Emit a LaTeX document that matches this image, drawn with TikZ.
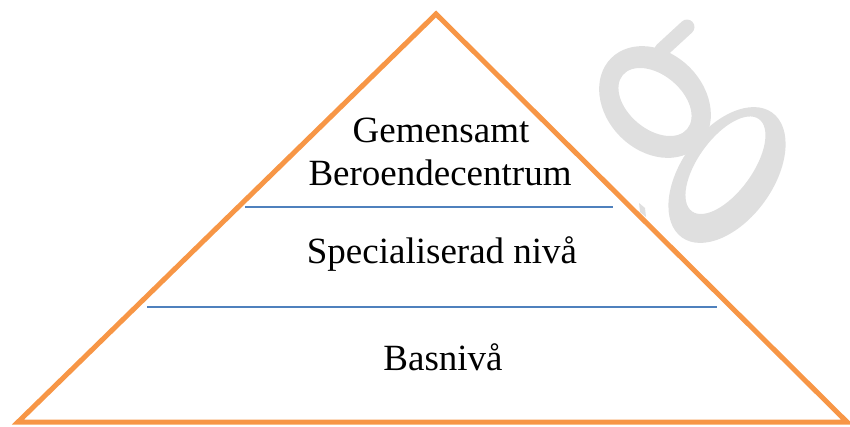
\documentclass[tikz,border=0pt]{standalone}
\usepackage{fontspec}
\setmainfont{Liberation Serif}
\definecolor{pyrorange}{HTML}{F79646}
\definecolor{levelblue}{HTML}{4F81BD}
\definecolor{wmgray}{HTML}{DFDFDF}
\begin{document}
\begin{tikzpicture}[x=1pt,y=-1pt,
  levelline/.style={draw=levelblue,line width=1.6pt},
  leveltext/.style={anchor=base,inner sep=0pt,font=\fontsize{37}{43}\selectfont},
  wm/.style={fill=wmgray,even odd rule}]
\useasboundingbox (0,0) rectangle (850,426);
% watermark
\fill[wm] [rotate around={-45:(655,102)}] (655,102) ellipse (62 and 49)
  [rotate around={5:(655,102)}] (655,102) ellipse (42 and 27);
\draw[wmgray,line width=15pt,line cap=round] (662,50) -- (687,27);
\fill[wm] [rotate around={54:(727,175)}] (727,175) ellipse (77 and 46)
  [rotate around={0:(734,168)}] (734,168) ellipse (57 and 27);
\fill[wmgray] (639,203) -- (645,208) -- (646,217) -- (640,212) -- cycle;
% pyramid
\coordinate (apex) at (436,14);
\coordinate (bl) at (18,422);
\coordinate (br) at (847,422);
\draw[pyrorange,line width=5pt,line join=miter] (apex) -- (bl) -- (br) -- cycle;
% level lines
\coordinate (u1) at (245,207);
\coordinate (u2) at (613,207);
\coordinate (l1) at (147,307);
\coordinate (l2) at (717,307);
\draw[levelline] (u1) -- (u2);
\draw[levelline] (l1) -- (l2);
% texts
\node[leveltext] (t1) at (441,142) {Gemensamt};
\node[leveltext] (t2) at (440,185) {Beroendecentrum};
\node[leveltext] (t3) at (442,263) {Specialiserad nivå};
\node[leveltext] (t4) at (443,370) {Basnivå};
\end{tikzpicture}
\end{document}
